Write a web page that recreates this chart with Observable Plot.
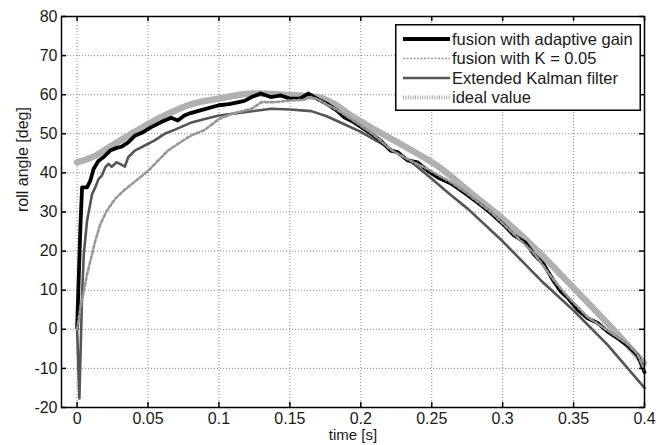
<!DOCTYPE html>
<html><head><meta charset="utf-8">
<script src="https://cdn.jsdelivr.net/npm/d3@7"></script>
<script src="https://cdn.jsdelivr.net/npm/@observablehq/plot@0.6"></script>
<style>
html,body{margin:0;padding:0;background:#fff;}
#wrap{position:relative;width:656px;height:445px;font-family:"Liberation Sans",Arial,sans-serif;}
#wrap svg.legend{position:absolute;left:395px;top:24px;}
</style>
</head><body>
<div id="wrap"></div>
<script>
// ---- data ----
const xTicks = [0, 0.05, 0.1, 0.15, 0.2, 0.25, 0.3, 0.35, 0.4];
const yTicks = [-20, -10, 0, 10, 20, 30, 40, 50, 60, 70, 80];
const seriesNames = ["fusion with adaptive gain", "fusion with K = 0.05", "Extended Kalman filter", "ideal value"];

const adaptiveT = [0, 0.0023, 0.0035, 0.007, 0.0093, 0.0116, 0.0151, 0.0186, 0.0233, 0.0279, 0.0314, 0.036, 0.0407, 0.0465, 0.0523, 0.0593, 0.0663, 0.071, 0.0756, 0.08, 0.09, 0.1, 0.107, 0.114, 0.118, 0.123, 0.1294, 0.1365, 0.1436, 0.15, 0.157, 0.163, 0.169, 0.176, 0.183, 0.188, 0.195, 0.202, 0.209, 0.215, 0.221, 0.226, 0.233, 0.24, 0.247, 0.254, 0.2636, 0.2754, 0.2848, 0.292, 0.3, 0.308, 0.316, 0.322, 0.329, 0.336, 0.341, 0.346, 0.353, 0.36, 0.367, 0.374, 0.381, 0.388, 0.395, 0.4];
const adaptiveV = [0.3, 26, 36.3, 36.3, 38, 41, 43.1, 44, 45.7, 46.4, 46.7, 47.8, 49.5, 50.4, 51.7, 53, 54.1, 53.4, 54.7, 55.3, 56.3, 57.3, 57.6, 58.1, 58.4, 59.4, 60.3, 59.4, 59.8, 59, 59, 60.3, 59, 57.7, 56, 54.3, 53, 51.3, 49.6, 47.9, 45.7, 45.3, 43.2, 42.7, 40.6, 38.9, 37.3, 34.3, 31.7, 29.6, 27, 24, 22.2, 19.2, 16.6, 12.3, 9.7, 8, 5, 2.8, 1.6, -0.6, -2.3, -4.1, -6.6, -10.9];

const fixedT = [0, 0.0023, 0.0047, 0.007, 0.0093, 0.0128, 0.0163, 0.0209, 0.0267, 0.0326, 0.0384, 0.0442, 0.05, 0.057, 0.064, 0.071, 0.08, 0.09, 0.1, 0.109, 0.123, 0.13, 0.14, 0.15, 0.16, 0.165, 0.17, 0.176, 0.183, 0.195, 0.209, 0.221, 0.233, 0.247, 0.2636, 0.2754, 0.292, 0.308, 0.322, 0.336, 0.346, 0.36, 0.374, 0.388, 0.395, 0.4];
const fixedV = [0, 5.4, 9.7, 14, 17.4, 22.6, 26.8, 30.3, 33.3, 35.4, 37.1, 38.8, 40.5, 43.1, 45.7, 47.4, 49.5, 51, 53.8, 55.1, 56.4, 58.1, 58.1, 58.5, 58.7, 59.4, 58.8, 57.5, 56.2, 53.3, 49.8, 46, 43.5, 41, 37.6, 34.6, 29.9, 24.3, 19.5, 12.6, 8.3, 3.1, -0.3, -3.8, -6.3, -10.5];

const ekfT = [0, 0.0016, 0.0035, 0.0047, 0.007, 0.0105, 0.0128, 0.0151, 0.0174, 0.0198, 0.0221, 0.0244, 0.0279, 0.0302, 0.0337, 0.036, 0.0407, 0.0477, 0.0547, 0.0616, 0.0686, 0.08, 0.09, 0.1, 0.118, 0.137, 0.15, 0.165, 0.176, 0.188, 0.2, 0.217, 0.235, 0.25, 0.263, 0.2755, 0.3, 0.327, 0.35, 0.374, 0.4];
const ekfV = [0, -17.7, 8.8, 19.1, 27.7, 34.5, 36.3, 38.4, 39.3, 41.4, 42.3, 41.6, 42.7, 42.3, 41.6, 44, 45.7, 47, 48.3, 50, 51, 52.8, 53.8, 54.7, 55.5, 56.4, 56.2, 55.8, 54.5, 52.5, 50.5, 47, 43, 38.5, 34.5, 30.8, 22.5, 12.5, 4.8, -4, -15];

const idealT = [0, 0.0128, 0.0244, 0.036, 0.05, 0.064, 0.08, 0.1, 0.125, 0.15, 0.169, 0.181, 0.193, 0.205, 0.217, 0.228, 0.24, 0.252, 0.263, 0.2755, 0.3, 0.322, 0.35, 0.374, 0.4];
const idealV = [42.7, 44.4, 47, 49.5, 52.5, 55.1, 57.5, 59, 60.3, 59.9, 59.4, 57.7, 54.7, 52.1, 49.6, 47.4, 44.9, 42.3, 39.3, 35.5, 28.3, 21, 10.6, 1.5, -8.8];

// ---- build tables ----
const toRows = (T, V) => T.map((t, i) => ({t, v: V[i]}));
const adaptive = toRows(adaptiveT, adaptiveV);
const fixedK = toRows(fixedT, fixedV);
const ekf = toRows(ekfT, ekfV);
const ideal = toRows(idealT, idealV);

const W = 656, H = 445;
const mL = 61, mR = 12, mT = 16, mB = 38;
const plotW = W - mL - mR, plotH = H - mT - mB;
const font = "Liberation Sans, Arial, sans-serif";

const styles = {
  adaptive: {stroke: "#000", strokeWidth: 3.8},
  fixedK: {stroke: "#979797", strokeWidth: 2.6, strokeDasharray: "3,2.5"},
  ekf: {stroke: "#555", strokeWidth: 2.6},
  ideal: {stroke: "#b0b0b0", strokeWidth: 6.5, strokeDasharray: "1,1.4"}
};

const chart = Plot.plot({
  width: W, height: H,
  marginLeft: mL, marginRight: mR, marginTop: mT, marginBottom: mB,
  style: {fontFamily: font, fontSize: "16px", color: "#1a1a1a", background: "#fff"},
  x: {domain: [-0.011, 0.4]},
  y: {domain: [-20, 80]},
  marks: [
    Plot.gridX({ticks: xTicks, stroke: "#8a8a8a", strokeOpacity: 1, strokeWidth: 1, strokeDasharray: "1,2"}),
    Plot.gridY({ticks: yTicks, stroke: "#8a8a8a", strokeOpacity: 1, strokeWidth: 1, strokeDasharray: "1,2"}),
    Plot.line(ideal, {x: "t", y: "v", curve: "monotone-x", ...styles.ideal}),
    Plot.line(ekf, {x: "t", y: "v", ...styles.ekf}),
    Plot.line(adaptive, {x: "t", y: "v", ...styles.adaptive, strokeLinejoin: "round"}),
    Plot.line(fixedK, {x: "t", y: "v", ...styles.fixedK}),
    Plot.tickX(xTicks, {x: d => d, insetTop: plotH - 5, stroke: "#000", strokeWidth: 1.5}),
    Plot.tickX(xTicks, {x: d => d, insetBottom: plotH - 5, stroke: "#000", strokeWidth: 1.5}),
    Plot.tickY(yTicks, {y: d => d, insetRight: plotW - 5, stroke: "#000", strokeWidth: 1.5}),
    Plot.tickY(yTicks, {y: d => d, insetLeft: plotW - 5, stroke: "#000", strokeWidth: 1.5}),
    Plot.frame({stroke: "#000", strokeWidth: 1.5}),
    Plot.axisX({ticks: xTicks, tickSize: 0, tickPadding: 5, tickFormat: d => String(d), label: null, fontSize: 16}),
    Plot.axisY({ticks: yTicks, tickSize: 0, tickPadding: 4, tickFormat: d => String(d), label: null, fontSize: 16}),
    Plot.text(["time [s]"], {text: d => d, frameAnchor: "bottom", dy: 32, fontSize: 15, fill: "#1a1a1a"}),
    Plot.text(["roll angle [deg]"], {text: d => d, frameAnchor: "left", dx: -39, rotate: -90, fontSize: 16, fill: "#1a1a1a"})
  ]
});

const wrap = document.getElementById("wrap");
wrap.appendChild(chart);

// ---- legend ----
const lw = 246, lh = 87;
const ns = "http://www.w3.org/2000/svg";
const leg = document.createElementNS(ns, "svg");
leg.setAttribute("class", "legend");
leg.setAttribute("width", lw);
leg.setAttribute("height", lh);
const rect = document.createElementNS(ns, "rect");
rect.setAttribute("x", 0.75); rect.setAttribute("y", 0.75);
rect.setAttribute("width", lw - 1.5); rect.setAttribute("height", lh - 1.5);
rect.setAttribute("fill", "#fff"); rect.setAttribute("stroke", "#000"); rect.setAttribute("stroke-width", 1.5);
leg.appendChild(rect);
const legStyles = [styles.adaptive, {stroke: "#999", strokeWidth: 1.6, strokeDasharray: "2,1.5"}, styles.ekf, {stroke: "#aaa", strokeWidth: 4, strokeDasharray: "1,1.4"}];
seriesNames.forEach((name, i) => {
  const cy = 15 + i * 19.5;
  const s = legStyles[i];
  const ln = document.createElementNS(ns, "line");
  ln.setAttribute("x1", 8); ln.setAttribute("x2", 55);
  ln.setAttribute("y1", cy); ln.setAttribute("y2", cy);
  ln.setAttribute("stroke", s.stroke);
  ln.setAttribute("stroke-width", s.strokeWidth);
  if (s.strokeDasharray) ln.setAttribute("stroke-dasharray", s.strokeDasharray);
  leg.appendChild(ln);
  const tx = document.createElementNS(ns, "text");
  tx.setAttribute("x", 57); tx.setAttribute("y", cy);
  tx.setAttribute("dy", "0.35em");
  tx.setAttribute("font-family", font);
  tx.setAttribute("font-size", 16.5);
  tx.setAttribute("fill", "#1a1a1a");
  tx.textContent = name;
  leg.appendChild(tx);
});
wrap.appendChild(leg);
</script>
</body></html>
